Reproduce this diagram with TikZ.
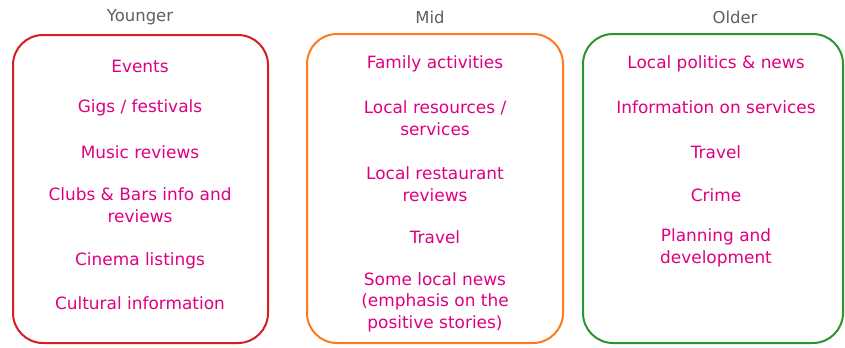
\documentclass[tikz,border=0pt]{standalone}
\usepackage{fontspec}
\setmainfont{DejaVu Sans}
\definecolor{itempink}{RGB}{222,0,128}
\definecolor{headgray}{RGB}{95,95,95}
\definecolor{youngred}{RGB}{214,28,36}
\definecolor{midorange}{RGB}{255,122,28}
\definecolor{oldgreen}{RGB}{42,150,42}
\tikzset{
  agebox/.style={line width=2bp, rounded corners=30bp},
  agehead/.style={text=headgray, font=\fontsize{16.5}{18}\selectfont},
  topic/.style={text=itempink, align=center, inner sep=0pt, font=\fontsize{17}{21.5}\selectfont}
}
\begin{document}
\begin{tikzpicture}[x=1bp,y=-1bp,line join=round]
\useasboundingbox (0,0) rectangle (845,347);
%% Khung
\draw[agebox,youngred] (13,35) rectangle (268,343);
\draw[agebox,midorange] (307,34) rectangle (563,343);
\draw[agebox,oldgreen] (583,34) rectangle (843,343);
%% Tieu de
\node[agehead] (hyoung) at (140,17) {Younger};
\node[agehead] (hmid) at (430,17) {Mid};
\node[agehead] (hold) at (735,17) {Older};
%% Muc
\foreach \n/\y/\t in {y1/66/Events, y2/108/{Gigs / festivals}, y3/152/Music reviews,
    y4/205/{Clubs \& Bars info and\\reviews}, y5/261/Cinema listings, y6/303/Cultural information}{
  \node[topic] (\n) at (140,\y) {\t};
}
\foreach \n/\y/\t in {m1/64/Family activities, m2/118/{Local resources /\\services},
    m3/184/{Local restaurant\\reviews}, m4/237/Travel,
    m5/302/{Some local news\\(emphasis on the\\positive stories)}}{
  \node[topic] (\n) at (435,\y) {\t};
}
\foreach \n/\y/\t in {o1/64/Local politics \& news, o2/107/Information on services, o3/152/Travel,
    o4/195/Crime, o5/248/{Planning and\\development}}{
  \node[topic] (\n) at (716,\y) {\t};
}
\end{tikzpicture}
\end{document}
